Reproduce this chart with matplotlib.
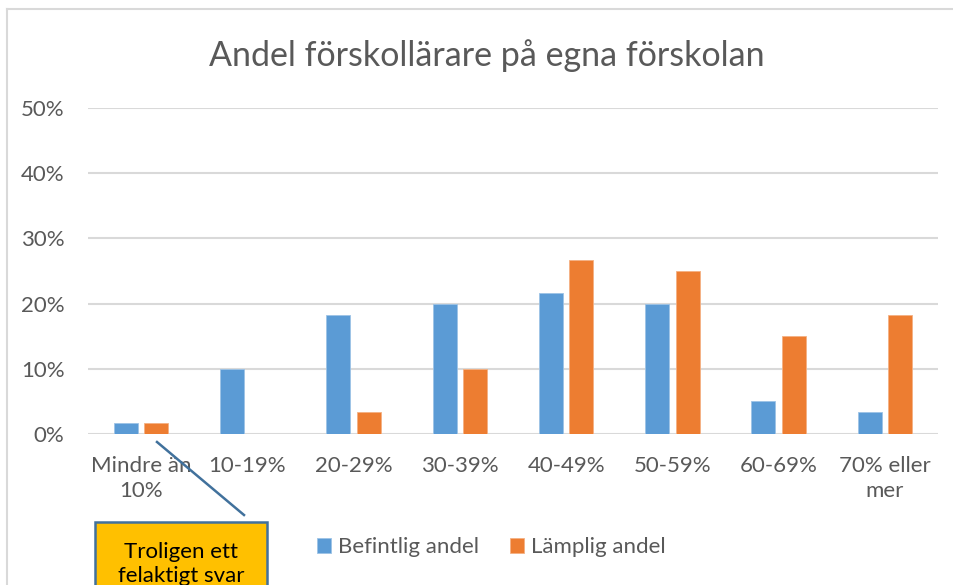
import matplotlib
matplotlib.use("Agg")
import matplotlib.pyplot as plt
from matplotlib.patches import Rectangle
from matplotlib.lines import Line2D
import numpy as np

categories = ["Mindre än\n10%", "10-19%", "20-29%", "30-39%", "40-49%",
              "50-59%", "60-69%", "70% eller\nmer"]
befintlig = [1.7, 10.0, 18.3, 20.0, 21.7, 20.0, 5.0, 3.3]
lamplig = [1.7, 0.0, 3.3, 10.0, 26.7, 25.0, 15.0, 18.3]
series_names = ["Befintlig andel", "Lämplig andel"]
yticks = [0, 10, 20, 30, 40, 50]

BLUE = "#5B9BD5"
ORANGE = "#ED7D31"
GRID = "#D9D9D9"
TEXT = "#595959"

plt.rcParams["font.family"] = ["Lato", "DejaVu Sans"]

W, H = 954, 585
fig = plt.figure(figsize=(W / 100, H / 100), dpi=100)

# chart frame (only left and top edges are visible in the crop)
fig.add_artist(Line2D([7 / W, 7 / W], [1 - 9 / H, 0], color=GRID, lw=1.5))
fig.add_artist(Line2D([7 / W, 1], [1 - 9 / H, 1 - 9 / H], color=GRID, lw=1.5))

ax = fig.add_axes([88 / W, 1 - 434 / H, (938 - 88) / W, (434 - 108) / H])
x = np.arange(len(categories))
bw = 0.226
off = 0.143
ax.bar(x - off, befintlig, bw, color=BLUE, edgecolor="#9DC3E6", linewidth=0.6,
       label=series_names[0], zorder=3)
ax.bar(x + off, lamplig, bw, color=ORANGE, edgecolor="#F4B183", linewidth=0.6,
       label=series_names[1], zorder=3)

ax.set_xlim(-0.5, len(categories) - 0.5)
ax.set_ylim(0, 50)
ax.set_yticks(yticks)
ax.set_yticklabels([f"{t}%" for t in yticks])
ax.set_xticks(x)
ax.set_xticklabels(categories, linespacing=1.3)
ax.grid(axis="y", color=GRID, lw=1.5, zorder=0)
ax.set_axisbelow(True)
for s in ax.spines.values():
    s.set_visible(False)
ax.tick_params(axis="both", length=0, labelsize=16, colors=TEXT)
ax.tick_params(axis="y", pad=17)
ax.tick_params(axis="x", pad=16)

fig.text(487 / W, 1 - 56 / H, "Andel förskollärare på egna förskolan",
         ha="center", va="center", fontsize=24.5, color=TEXT)

fig.legend(loc="center", bbox_to_anchor=(491 / W, 1 - 547 / H), ncol=2,
           frameon=False, fontsize=16, labelcolor=TEXT, handlelength=0.65,
           handleheight=0.65, handletextpad=0.3, columnspacing=1.4)

# callout
fig.add_artist(Line2D([157 / W, 244 / W], [1 - 442 / H, 1 - 515 / H],
                      color="#41719C", lw=1.8))
fig.add_artist(Rectangle((95 / W, -0.1), (267 - 95) / W, 0.1 + (585 - 522) / H,
                         transform=fig.transFigure, facecolor="#FFC000",
                         edgecolor="#41719C", lw=1.8))
fig.text(181 / W, 1 - 564 / H, "Troligen ett\nfelaktigt svar", ha="center",
         va="center", fontsize=16, color="black", linespacing=1.25)

fig.savefig("out.png", dpi=100)
